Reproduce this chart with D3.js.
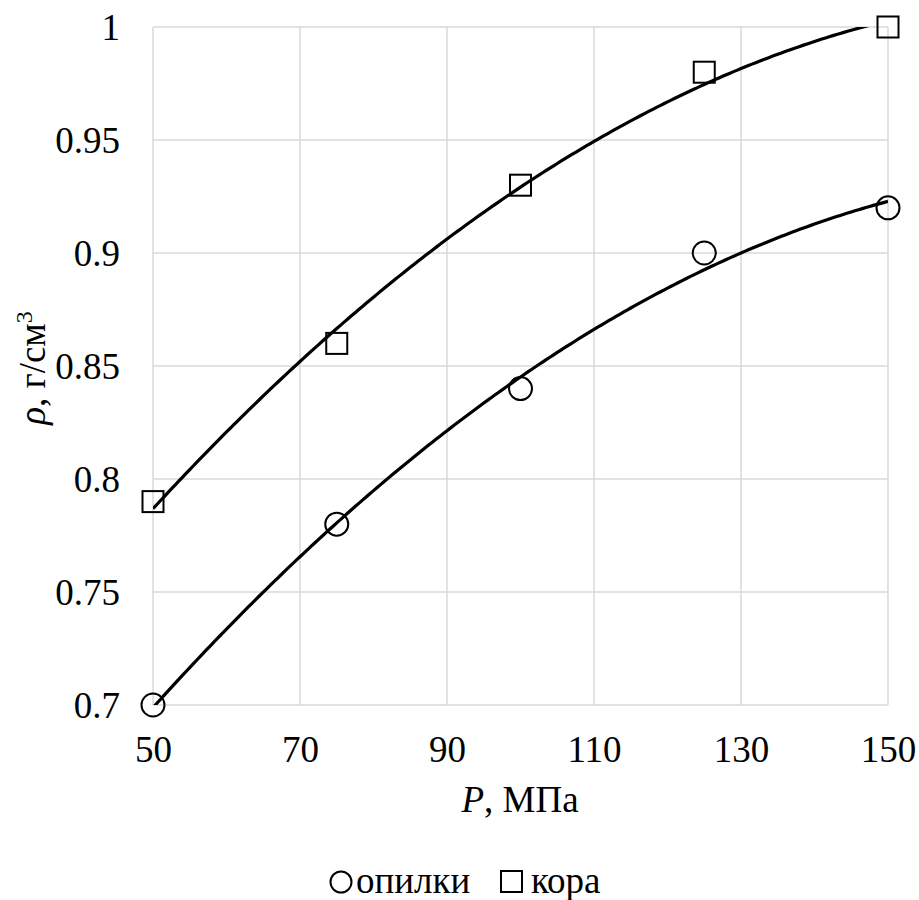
<!DOCTYPE html>
<html>
<head>
<meta charset="utf-8">
<script src="https://cdn.jsdelivr.net/npm/d3@7"></script>
<style>
  html, body { margin: 0; padding: 0; background: #fff; }
  svg { display: block; }
</style>
</head>
<body>
<svg id="chart" width="919" height="900" font-family="Liberation Serif, Times New Roman, serif"></svg>
<script>
// Pressure, MPa
const pressure = [50, 75, 100, 125, 150];
// Density of sawdust pellets, g/cm3
const opilki = [0.70, 0.78, 0.84, 0.90, 0.92];
// Density of bark pellets, g/cm3
const kora = [0.79, 0.86, 0.93, 0.98, 1.00];

const xTicks = [50, 70, 90, 110, 130, 150];
const yTicks = [0.7, 0.75, 0.8, 0.85, 0.9, 0.95, 1];

const FONT = 37;
const SERIF = "Liberation Serif";
const svg = d3.select("#chart");
const margin = { left: 153, top: 27, right: 919 - 888, bottom: 900 - 705 };
const W = 919 - margin.left - margin.right;
const H = 900 - margin.top - margin.bottom;

const x = d3.scaleLinear().domain([50, 150]).range([0, W]);
const y = d3.scaleLinear().domain([0.7, 1]).range([H, 0]);

const g = svg.append("g").attr("transform", `translate(${margin.left},${margin.top})`);

// Grid
g.append("g").selectAll("line").data(xTicks).join("line")
  .attr("x1", d => x(d)).attr("x2", d => x(d))
  .attr("y1", 0).attr("y2", H)
  .attr("stroke", "#d9d9d9").attr("stroke-width", 1.5);
g.append("g").selectAll("line").data(yTicks).join("line")
  .attr("x1", 0).attr("x2", W)
  .attr("y1", d => y(d)).attr("y2", d => y(d))
  .attr("stroke", "#d9d9d9").attr("stroke-width", 1.5);

// Axes (labels only)
const xAxis = g.append("g").attr("transform", `translate(0,${H})`)
  .call(d3.axisBottom(x).tickValues(xTicks).tickSize(0).tickPadding(0).tickFormat(d3.format("d")));
const yAxis = g.append("g")
  .call(d3.axisLeft(y).tickValues(yTicks).tickSize(0).tickPadding(33).tickFormat(d => String(+d.toFixed(2))));
[xAxis, yAxis].forEach(a => {
  a.attr("font-family", SERIF).attr("font-size", FONT);
  a.select(".domain").remove();
  a.selectAll("text").attr("font-family", SERIF).attr("font-size", FONT).attr("fill", "#000");
});
xAxis.selectAll("text").attr("y", 57).attr("dy", null);
yAxis.selectAll("text").attr("dy", "0.33em");

// Second-order polynomial least-squares trend
function polyFit2(xs, ys) {
  const n = xs.length;
  const s = [0, 0, 0, 0, 0], t = [0, 0, 0];
  for (let i = 0; i < n; i++) {
    for (let k = 0; k <= 4; k++) s[k] += Math.pow(xs[i], k);
    for (let k = 0; k <= 2; k++) t[k] += ys[i] * Math.pow(xs[i], k);
  }
  const A = [[s[0], s[1], s[2]], [s[1], s[2], s[3]], [s[2], s[3], s[4]]];
  const b = t.slice();
  for (let i = 0; i < 3; i++) {
    for (let j = i + 1; j < 3; j++) {
      const f = A[j][i] / A[i][i];
      for (let k = i; k < 3; k++) A[j][k] -= f * A[i][k];
      b[j] -= f * b[i];
    }
  }
  const c = [0, 0, 0];
  for (let i = 2; i >= 0; i--) {
    let sum = b[i];
    for (let k = i + 1; k < 3; k++) sum -= A[i][k] * c[k];
    c[i] = sum / A[i][i];
  }
  return xv => c[0] + c[1] * xv + c[2] * xv * xv;
}

svg.append("defs").append("clipPath").attr("id", "plotClip")
  .append("rect").attr("x", 0).attr("y", 0).attr("width", W).attr("height", H);

const line = d3.line().x(d => x(d[0])).y(d => y(d[1]));
const xs = d3.range(50, 150.01, 0.5);
[opilki, kora].forEach(series => {
  const f = polyFit2(pressure, series);
  g.append("path")
    .attr("clip-path", "url(#plotClip)")
    .attr("d", line(xs.map(v => [v, f(v)])))
    .attr("fill", "none").attr("stroke", "#000").attr("stroke-width", 3.2);
});

// Markers
g.append("g").selectAll("circle").data(pressure.map((p, i) => [p, opilki[i]])).join("circle")
  .attr("cx", d => x(d[0])).attr("cy", d => y(d[1])).attr("r", 11.5)
  .attr("fill", "none").attr("stroke", "#000").attr("stroke-width", 2);
g.append("g").selectAll("rect").data(pressure.map((p, i) => [p, kora[i]])).join("rect")
  .attr("x", d => x(d[0]) - 10.5).attr("y", d => y(d[1]) - 10.5)
  .attr("width", 21).attr("height", 21)
  .attr("fill", "none").attr("stroke", "#000").attr("stroke-width", 2);

// Axis titles
const xt = svg.append("text").attr("x", 520).attr("y", 812).attr("text-anchor", "middle")
  .attr("font-family", SERIF).attr("font-size", FONT);
xt.append("tspan").attr("font-style", "italic").text("P");
xt.append("tspan").text(", МПа");

const yt = svg.append("text").attr("transform", "translate(45,368) rotate(-90)")
  .attr("text-anchor", "middle").attr("font-family", SERIF).attr("font-size", FONT);
yt.append("tspan").attr("font-style", "italic").text("ρ");
yt.append("tspan").text(", г/см");
yt.append("tspan").attr("font-size", 24).attr("dy", -13).text("3");

// Legend
const leg = svg.append("g").attr("font-family", SERIF).attr("font-size", FONT);
leg.append("circle").attr("cx", 341).attr("cy", 882).attr("r", 10.5)
  .attr("fill", "none").attr("stroke", "#000").attr("stroke-width", 2);
leg.append("text").attr("x", 356).attr("y", 893).text("опилки");
leg.append("rect").attr("x", 501).attr("y", 871).attr("width", 21).attr("height", 21)
  .attr("fill", "none").attr("stroke", "#000").attr("stroke-width", 2);
leg.append("text").attr("x", 531).attr("y", 893).text("кора");
</script>
</body>
</html>
